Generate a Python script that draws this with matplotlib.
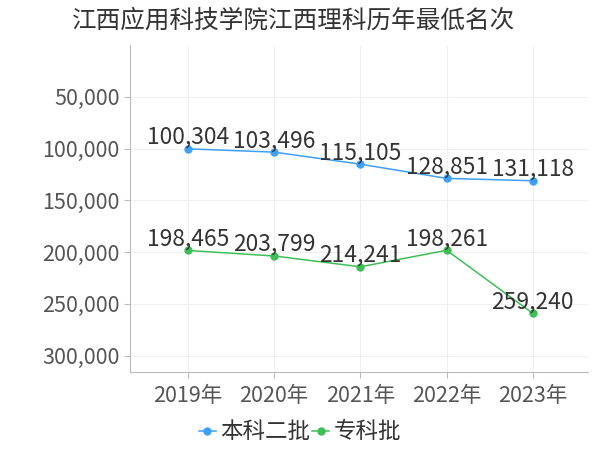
import matplotlib.pyplot as plt
from matplotlib.ticker import FuncFormatter

plt.rcParams['font.family'] = ['Noto Sans CJK SC', 'DejaVu Sans']

years = ["2019年", "2020年", "2021年", "2022年", "2023年"]
benke2 = [100304, 103496, 115105, 128851, 131118]
zhuanke = [198465, 203799, 214241, 198261, 259240]
series_names = ["本科二批", "专科批"]
colors = ["#3ea0f5", "#3dbf57"]

fig = plt.figure(figsize=(6, 4.5), dpi=100)
ax = fig.add_axes([0.217, 0.173, 0.763, 0.727])

x = list(range(len(years)))
for vals, name, c in zip([benke2, zhuanke], series_names, colors):
    ax.plot(x, vals, color=c, lw=1.1, marker="o", ms=5, label=name)
    for xi, v in zip(x, vals):
        ax.annotate(f"{v:,}", (xi, v), xytext=(0, 0), textcoords="offset points",
                    ha="center", va="bottom", fontsize=16.4, color="#333333")

ax.set_ylim(316000, 0)
ax.set_xlim(-0.67, 4.64)
ax.set_yticks([50000, 100000, 150000, 200000, 250000, 300000])
ax.yaxis.set_major_formatter(FuncFormatter(lambda v, p: f"{int(v):,}"))
ax.set_xticks(x)
ax.set_xticklabels(years)
ax.tick_params(axis="both", labelsize=15.5, colors="#555555", length=4, color="#bbbbbb")
ax.tick_params(axis="x", pad=5)
ax.grid(True, color="#f0f0f0", lw=0.8)
ax.set_axisbelow(True)
for s in ["top", "right"]:
    ax.spines[s].set_visible(False)
for s in ["left", "bottom"]:
    ax.spines[s].set_color("#bbbbbb")

fig.text(0.49, 0.955, "江西应用科技学院江西理科历年最低名次", ha="center", va="center",
         fontsize=17.7, color="#333333")
fig.legend(loc="center", bbox_to_anchor=(0.5, 0.04), ncol=2, frameon=False,
           fontsize=16.2, handlelength=0.75, handletextpad=0.2, columnspacing=0.1,
           labelcolor="#333333")

fig.savefig("out.png", dpi=100)
